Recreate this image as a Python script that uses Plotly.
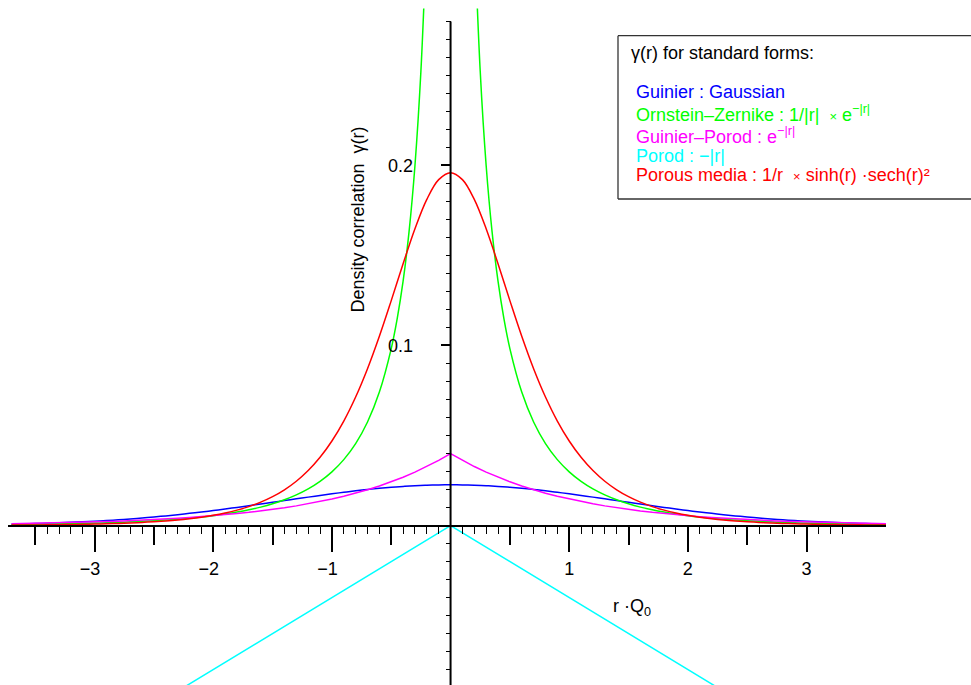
import plotly.graph_objects as go

# ---------------- data ----------------
R_HALF = [0.0, 0.1, 0.2, 0.3, 0.4, 0.5, 0.6, 0.7, 0.8, 0.9, 1.0, 1.1, 1.2, 1.3,
          1.4, 1.5, 1.6, 1.7, 1.8, 1.9, 2.0, 2.1, 2.2, 2.3, 2.4, 2.5, 2.6, 2.7,
          2.8, 2.9, 3.0, 3.1, 3.2, 3.3, 3.4, 3.5, 3.6, 3.7]

GUINIER = [0.0226, 0.02254, 0.02238, 0.02210, 0.02171, 0.02123, 0.02065, 0.02000,
           0.01926, 0.01846, 0.01760, 0.01670, 0.01577, 0.01481, 0.01384, 0.01288,
           0.01192, 0.01097, 0.01005, 0.00917, 0.00831, 0.00750, 0.00674, 0.00602,
           0.00535, 0.00474, 0.00417, 0.00365, 0.00318, 0.00276, 0.00238, 0.00205,
           0.00175, 0.00149, 0.00126, 0.00106, 0.00089, 0.00074]

GUINIER_POROD = [0.04, 0.03619, 0.03275, 0.02963, 0.02681, 0.02426, 0.02195, 0.01986,
                 0.01797, 0.01626, 0.01472, 0.01331, 0.01205, 0.01090, 0.00986, 0.00893,
                 0.00808, 0.00731, 0.00661, 0.00598, 0.00541, 0.00490, 0.00443, 0.00401,
                 0.00363, 0.00328, 0.00297, 0.00269, 0.00243, 0.00220, 0.00199, 0.00180,
                 0.00163, 0.00147, 0.00133, 0.00121, 0.00109, 0.00099]

POROUS = [0.196, 0.19213, 0.18118, 0.16485, 0.14538, 0.12492, 0.10514, 0.08711,
          0.07137, 0.05802, 0.04694, 0.03787, 0.03052, 0.02459, 0.01984, 0.01602,
          0.01296, 0.01050, 0.00853, 0.00694, 0.00566, 0.00463, 0.00379, 0.00310,
          0.00255, 0.00210, 0.00173, 0.00143, 0.00118, 0.00097, 0.00081, 0.00067,
          0.00055, 0.00046, 0.00038, 0.00032, 0.00026, 0.00022]

OZ_R = [0.2, 0.25, 0.3, 0.35, 0.4, 0.45, 0.5, 0.6, 0.7, 0.8, 0.9, 1.0, 1.1, 1.2,
        1.3, 1.4, 1.5, 1.6, 1.7, 1.8, 1.9, 2.0, 2.1, 2.2, 2.3, 2.4, 2.5, 2.6, 2.7,
        2.8, 2.9, 3.0, 3.1, 3.2, 3.3, 3.4, 3.5, 3.6, 3.7]
OZ = [0.3316, 0.2523, 0.2000, 0.1631, 0.1357, 0.1148, 0.0983, 0.0741, 0.0575,
      0.0455, 0.0366, 0.0298, 0.02451, 0.02033, 0.01698, 0.01427, 0.01205, 0.01022,
      0.00871, 0.00744, 0.00638, 0.00548, 0.00472, 0.00408, 0.00353, 0.00306,
      0.00266, 0.00231, 0.00202, 0.00176, 0.00154, 0.00134, 0.00118, 0.00103,
      0.00091, 0.00080, 0.00070, 0.00061, 0.00054]

POROD_R = [-3.7, 0.0, 3.7]
POROD = [-0.148, 0.0, -0.148]

X_LABELS = [-3, -2, -1, 1, 2, 3]
Y_LABELS = [0.1, 0.2]


def mirror(rs, vs):
    xs = [-r for r in reversed(rs[1:])] + list(rs)
    ys = list(reversed(vs[1:])) + list(vs)
    return xs, ys


W, H = 971, 685
FONT = "Liberation Sans, Arial, Helvetica, sans-serif"
FS = 18


def px(x):  # window pixel -> paper x
    return x / W


def py(y):  # window pixel -> paper y
    return 1 - y / H


XR = [-3.73, 3.67]
YR = [-0.0886, 0.2872]
XDOM = [px(8), px(886)]
YDOM = [0, py(8.5)]

x0_paper = XDOM[0] + (0 - XR[0]) / (XR[1] - XR[0]) * (XDOM[1] - XDOM[0])
y0_paper = YDOM[0] + (0 - YR[0]) / (YR[1] - YR[0]) * (YDOM[1] - YDOM[0])

fig = go.Figure()

bx, by = mirror(R_HALF, GUINIER)
fig.add_trace(go.Scatter(x=bx, y=by, mode="lines", line=dict(color="#0000ff", width=1.5, shape="spline")))

ox_neg = [-r for r in reversed(OZ_R)]
oy_neg = list(reversed(OZ))
fig.add_trace(go.Scatter(x=ox_neg + [None] + OZ_R, y=oy_neg + [None] + OZ, mode="lines",
                         line=dict(color="#00ff00", width=1.5, shape="spline")))

gx, gy = mirror(R_HALF, GUINIER_POROD)
fig.add_trace(go.Scatter(x=gx, y=gy, mode="lines", line=dict(color="#ff00ff", width=1.5)))

fig.add_trace(go.Scatter(x=POROD_R, y=POROD, mode="lines", line=dict(color="#00ffff", width=1.5)))

rx, ry = mirror(R_HALF, POROUS)
fig.add_trace(go.Scatter(x=rx, y=ry, mode="lines", line=dict(color="#ff0000", width=1.5, shape="spline")))

# dummy trace so the medium-tick overlay axis is drawn
fig.add_trace(go.Scatter(x=[None], y=[None], xaxis="x2", yaxis="y", mode="lines", hoverinfo="skip"))

x_minor = [round(-3.5 + 0.1 * i, 2) for i in range(69)]
x_mid = [-3.5, -2.5, -1.5, -0.5, 0.5, 1.5, 2.5]
y_minor = [round(-0.08 + 0.01 * i, 3) for i in range(37)]
y_major = [-0.05, 0.05, 0.1, 0.15, 0.2, 0.25]
y_text = [f"{v:g}" if v in Y_LABELS else "" for v in y_major]
x_text = [("\u2212" + str(-v) + "\u2002") if v < 0 else str(v) for v in X_LABELS]

fig.update_layout(
    width=W, height=H,
    margin=dict(l=0, r=0, t=0, b=0),
    paper_bgcolor="white", plot_bgcolor="white",
    showlegend=False,
    font=dict(family=FONT, size=FS, color="black"),
    xaxis=dict(
        range=XR, domain=XDOM, anchor="free", position=y0_paper,
        showgrid=False, zeroline=False,
        showline=True, linecolor="black", linewidth=2,
        tickmode="array", tickvals=X_LABELS, ticktext=x_text,
        ticks="outside", ticklen=25, tickwidth=1.5, tickcolor="black",
        ticklabelstandoff=2,
        tickfont=dict(family=FONT, size=FS, color="black"),
        minor=dict(tickmode="array", tickvals=x_minor, ticks="outside", ticklen=7,
                   tickwidth=1.3, tickcolor="black"),
    ),
    xaxis2=dict(
        range=XR, overlaying="x", anchor="free", position=y0_paper,
        showgrid=False, zeroline=False, showline=False,
        tickmode="array", tickvals=x_mid, ticktext=["" for _ in x_mid],
        ticks="outside", ticklen=18, tickwidth=1.5, tickcolor="black",
    ),
    yaxis=dict(
        range=YR, domain=YDOM, anchor="free", position=x0_paper,
        showgrid=False, zeroline=False, showline=False,
        tickmode="array", tickvals=y_major, ticktext=y_text,
        ticks="outside", ticklen=10, tickwidth=1.5, tickcolor="black",
        ticklabelstandoff=24,
        tickfont=dict(family=FONT, size=FS, color="black"),
        minor=dict(tickmode="array", tickvals=y_minor, ticks="outside", ticklen=5,
                   tickwidth=1.3, tickcolor="black"),
    ),
)

# y axis line (ends at 0.28 like the reference)
fig.add_shape(type="line", xref="x", yref="y", x0=0, x1=0, y0=YR[0], y1=0.28,
              line=dict(color="black", width=2))

# axis titles
fig.add_annotation(x=px(632), y=py(607), xref="paper", yref="paper",
                   xanchor="center", yanchor="middle",
                   text="r \u00b7Q<sub>0</sub>", showarrow=False,
                   font=dict(family=FONT, size=FS, color="black"))
fig.add_annotation(x=px(357.5), y=py(220), xref="paper", yref="paper",
                   xanchor="center", yanchor="middle",
                   text="Density correlation  \u03b3(r)", textangle=-90, showarrow=False,
                   font=dict(family=FONT, size=FS, color="black"))

# legend box: white panel running off the right edge, border on three sides
BX0, BY0, BY1 = px(618), py(199), py(35.7)
fig.add_shape(type="rect", xref="paper", yref="paper",
              x0=BX0, x1=1.2, y0=BY0, y1=BY1,
              line=dict(width=0), fillcolor="white", layer="above")
BORDER = dict(color="#333333", width=1.3)
fig.add_shape(type="line", xref="paper", yref="paper", x0=BX0, x1=1.2, y0=BY1, y1=BY1,
              line=BORDER, layer="above")
fig.add_shape(type="line", xref="paper", yref="paper", x0=BX0, x1=1.2, y0=BY0, y1=BY0,
              line=BORDER, layer="above")
fig.add_shape(type="line", xref="paper", yref="paper", x0=BX0, x1=BX0, y0=BY0, y1=BY1,
              line=BORDER, layer="above")

SMALL = "<span style='font-size:13px'>\u00d7</span>"
legend_lines = [
    ("\u03b3(r) for standard forms:", "black", 630, 59),
    ("Guinier : Gaussian", "#0000ff", 635, 98),
    ("Ornstein\u2013Zernike : 1/|r|  " + SMALL + " e<sup>\u2212|r|</sup>", "#00ff00", 635, 121),
    ("Guinier\u2013Porod : e<sup>\u2212|r|</sup>", "#ff00ff", 635, 143.5),
    ("Porod : \u2212|r|", "#00ffff", 635, 162.5),
    ("Porous media : 1/r  " + SMALL + " sinh(r) \u00b7sech(r)\u00b2", "#ff0000", 635, 181),
]
for txt, col, xpx, base in legend_lines:
    fig.add_annotation(x=px(xpx), y=py(base + 5), xref="paper", yref="paper",
                       xanchor="left", yanchor="bottom", text=txt, showarrow=False,
                       align="left", borderpad=0,
                       font=dict(family=FONT, size=FS, color=col))

# remove the default page margin so the 971x685 figure fills the window exactly
fig.write_html("out.html",
               config={"displayModeBar": False},
               post_script="document.body.style.margin='0';document.body.style.overflow='hidden';")
